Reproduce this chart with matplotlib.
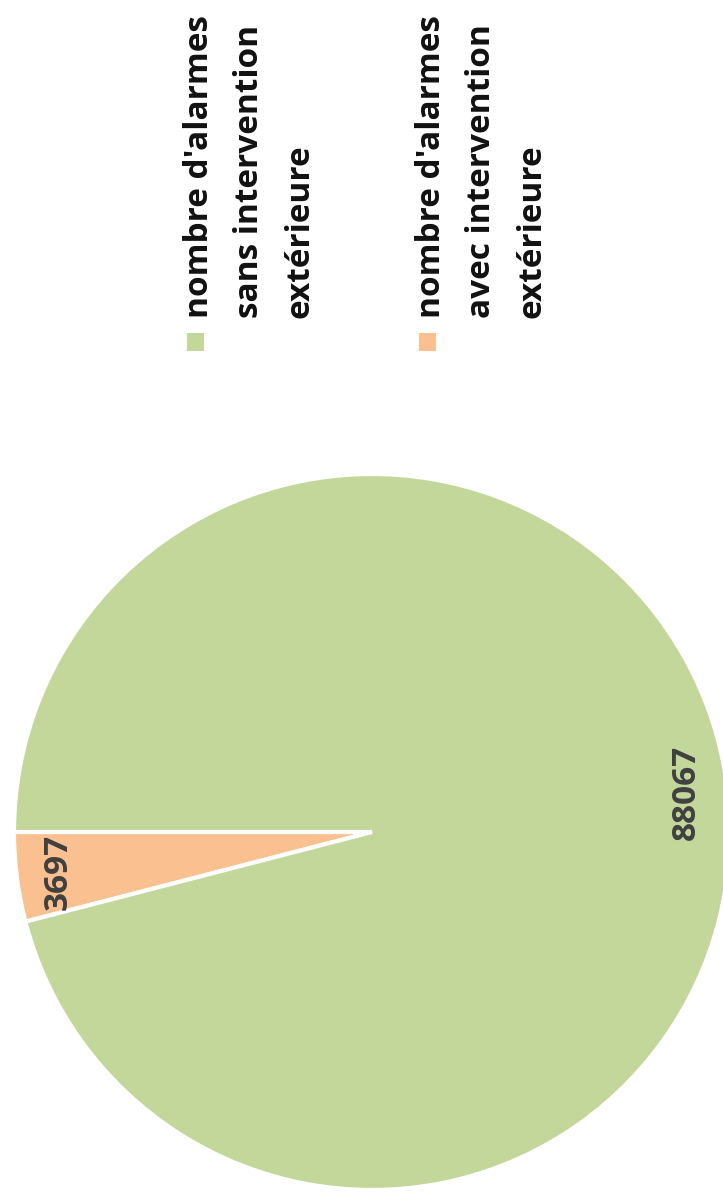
import matplotlib
matplotlib.use("Agg")
import matplotlib.pyplot as plt
from matplotlib.patches import Rectangle

# data
categories = ["nombre d'alarmes\nsans intervention\nextérieure",
              "nombre d'alarmes\navec intervention\nextérieure"]
values = [88067, 3697]
colors = ["#C4D79B", "#FAC090"]

W, H = 723, 1203
fig = plt.figure(figsize=(W / 100, H / 100), dpi=100)

# pie: center (372, 832) px, radius 358 px
cx, cy, r = 372, 832, 358
ax = fig.add_axes([(cx - r) / W, (H - cy - r) / H, 2 * r / W, 2 * r / H])
# small slice first so that it starts at 180 deg and goes counterclockwise
order = [1, 0]
wedges, texts = ax.pie([values[i] for i in order],
                       colors=[colors[i] for i in order],
                       labels=[str(values[i]) for i in order],
                       labeldistance=0.885, startangle=180, counterclock=True,
                       wedgeprops=dict(edgecolor="white", linewidth=3),
                       textprops=dict(rotation=90, ha="center", va="center",
                                      fontsize=24, fontweight="bold",
                                      family="Open Sans", color="#404040"))
ax.set_xlim(-1, 1)
ax.set_ylim(-1, 1)
for w in wedges:
    w.set_clip_on(False)

# legend, rotated like the rest of the chart
legend_x = [208, 440]
for i, (lab, col) in enumerate(zip(categories, colors)):
    bx = legend_x[i]
    fig.patches.append(Rectangle(((bx - 21) / W, (H - 351) / H), 17 / W, 18 / H,
                                 transform=fig.transFigure, facecolor=col,
                                 edgecolor="none"))
    for j, line in enumerate(lab.split("\n")):
        fig.text((bx + 50 * j) / W, (H - 318) / H, line, rotation=90,
                 rotation_mode="anchor", ha="left", va="baseline",
                 fontsize=24, fontweight="bold", family="Open Sans",
                 color="#111111")

fig.savefig("out.png", dpi=100)
